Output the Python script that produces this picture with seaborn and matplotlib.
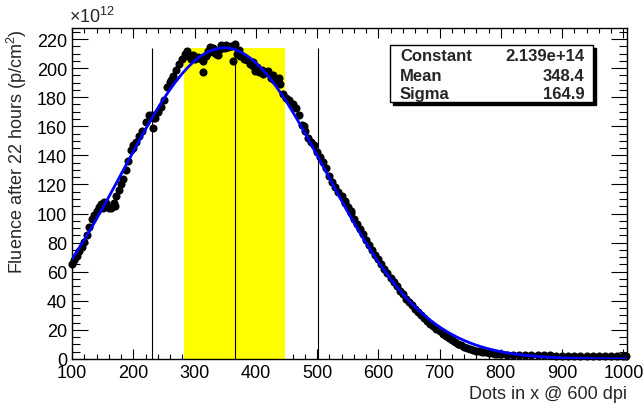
import numpy as np
import pandas as pd
import seaborn as sns
import matplotlib.pyplot as plt
from matplotlib.ticker import MultipleLocator
from matplotlib.patches import Rectangle

dots_x = [100, 104, 108, 112, 116, 120, 124, 128, 132, 136, 140, 144, 148, 152, 156,
          160, 164, 168, 172, 176, 180, 184, 188, 192, 196, 200, 205, 210, 215, 220,
          225, 230, 232, 235, 240, 245, 250, 255, 260, 265, 270, 275, 280, 285, 290,
          295, 300, 305, 310, 314, 318, 322, 326, 330, 335, 340, 345, 350, 355, 360,
          366, 370, 375, 380, 385, 390, 395, 400, 405, 410, 415, 420, 425, 430, 435,
          440, 445, 450, 455, 460, 465, 470, 475, 480, 485, 490, 495, 500, 505, 510,
          515, 520, 525, 530, 535, 540, 545, 550, 555, 560, 565, 570, 575, 580, 585,
          590, 595, 600, 605, 610, 615, 620, 625, 630, 635, 640, 645, 650, 655, 660,
          665, 670, 675, 680, 685, 690, 695, 700, 705, 710, 715, 720, 725, 730, 735,
          740, 745, 750, 755, 760, 765, 770, 775, 780, 785, 790, 795, 800, 810, 820,
          830, 840, 850, 860, 870, 880, 890, 900, 910, 920, 930, 940, 950, 960, 970,
          980, 990, 1000, 1005,
          # scattered dots
          232, 314, 363, 288, 298, 320, 338, 352, 372, 398, 412, 428, 438, 150, 170,
          200, 262, 545, 555, 478, 395, 402, 330, 344]
dots_y = [65.5, 68, 71, 74, 77, 80.5, 85, 91, 96, 99, 102, 104.5, 106.5, 108, 107,
          104, 104, 107, 112, 116.5, 120.5, 123.5, 130, 136, 144, 147, 149.5, 153, 156.5, 163,
          167.5, 168, 166, 165.5, 169.5, 173, 178, 187, 190.5, 194.5, 199, 202.5, 206, 210, 208,
          206, 206.5, 207.5, 206, 205, 208, 212, 214.5, 211, 210, 212.5, 214, 214, 214.5, 215,
          216.5, 210, 208.5, 206.5, 205.5, 203, 201.5, 199.5, 197.5, 198.5, 197, 198, 193, 191.5, 191,
          189, 182, 179.5, 178, 175.5, 172.5, 168, 161, 156.5, 152, 149.5, 147, 142.5, 139, 135.5,
          131, 126, 122, 118.5, 115, 112, 108.5, 104.5, 100.5, 96.5, 93, 89.5, 86, 82, 78.5,
          75, 71.5, 68.5, 65, 62, 59, 56, 53, 50, 47, 44.5, 41.5, 39, 37, 34.5,
          32, 30, 28, 26, 24, 22.5, 20.5, 19, 17.5, 16, 14.5, 13, 11.5, 10.5, 9.5,
          8.5, 7.7, 7, 6.3, 5.8, 5.3, 4.8, 4.5, 4.2, 3.9, 3.6, 3.4, 3.2, 3.0, 2.8,
          2.7, 2.6, 2.5, 2.5, 2.4, 2.4, 2.3, 2.3, 2.2, 2.2, 2.2, 2.1, 2.1, 2.1, 2.0,
          2.0, 2.0, 2.0, 2.0,
          158.5, 197, 205, 212, 209, 209.5, 209, 216, 212.5, 198, 196, 195, 193, 104, 105.5,
          145, 192, 107, 102, 160, 204, 200.5, 214, 216]

# gaussian fit (stats box)
fit_constant = 2.139e14
fit_mean = 348.4
fit_sigma = 164.9
stat_names = ["Constant", "Mean", "Sigma"]
stat_values = ["2.139e+14", "348.4", "164.9"]

# yellow band and the three vertical markers
band_x = [283, 448]
band_top = 214
marker_x = [231, 366, 501]
marker_top = 213.9

sns.set_style("ticks")
plt.rcParams['font.family'] = ['Liberation Sans', 'DejaVu Sans']
plt.rcParams['mathtext.fontset'] = 'custom'
plt.rcParams['mathtext.rm'] = 'Liberation Sans'
plt.rcParams['mathtext.it'] = 'Liberation Sans:italic'

fig = plt.figure(figsize=(6.44, 4.10), dpi=100)
ax = fig.add_axes([0.1118, 0.122, 0.8618, 0.807])

ax.fill_between(band_x, 0, band_top, color="#ffff00", lw=0, zorder=1)
ax.vlines(marker_x, 0, marker_top, colors="black", lw=0.8, zorder=2)

dots = pd.DataFrame({"x": dots_x, "y": dots_y})
sns.scatterplot(data=dots, x="x", y="y", color="black", s=34, linewidth=0,
                ax=ax, zorder=3, clip_on=False)

fit_x = np.linspace(100, 1005, 400)
fit_y = fit_constant / 1e12 * np.exp(-0.5 * ((fit_x - fit_mean) / fit_sigma) ** 2)
sns.lineplot(x=fit_x, y=fit_y, color="#0000ff", lw=2.0, ax=ax, zorder=4, sort=False)

ax.set_xlim(100, 1006)
ax.set_ylim(0, 227.5)
ax.xaxis.set_major_locator(MultipleLocator(100))
ax.xaxis.set_minor_locator(MultipleLocator(20))
ax.yaxis.set_major_locator(MultipleLocator(20))
ax.yaxis.set_minor_locator(MultipleLocator(5))
ax.tick_params(which="both", direction="in", top=True, right=True, width=0.8,
               labelsize=13, colors="black")
ax.tick_params(axis="y", which="major", length=11.5)
ax.tick_params(axis="y", which="minor", length=5.8)
ax.tick_params(axis="x", which="major", length=7.5)
ax.tick_params(axis="x", which="minor", length=3.8)
for s in ax.spines.values():
    s.set_linewidth(1.0)
    s.set_color("black")

ax.set_xlabel("Dots in x @ 600 dpi", fontsize=13, loc="right")
ax.xaxis.set_label_coords(1.0, -0.08)
ax.set_ylabel(r"Fluence after 22 hours (p/cm$^{2}$)", fontsize=13, loc="top")
ax.yaxis.set_label_coords(-0.078, 1.0)
ax.text(-0.005, 1.005, r"$\times$10$^{12}$", transform=ax.transAxes, fontsize=13,
        ha="left", va="bottom")

# stats box with shadow
bx, by, bw, bh = 0.573, 0.777, 0.366, 0.172
dx, dy = 3 / 555, 3 / 331
ax.add_patch(Rectangle((bx + dx, by - dy), bw, bh, transform=ax.transAxes,
                       fc="black", ec="black", lw=1, zorder=5, clip_on=False))
ax.add_patch(Rectangle((bx, by), bw, bh, transform=ax.transAxes,
                       fc="white", ec="black", lw=1, zorder=6, clip_on=False))
rows_y = [0.918, 0.858, 0.803]
for name, val, ry in zip(stat_names, stat_values, rows_y):
    ax.text(bx + 0.018, ry, name, transform=ax.transAxes, fontsize=12,
            fontweight="bold", ha="left", va="center", zorder=7)
    ax.text(bx + bw - 0.016, ry, val, transform=ax.transAxes, fontsize=12,
            fontweight="bold", ha="right", va="center", zorder=7)

fig.savefig("out.png", dpi=100)
